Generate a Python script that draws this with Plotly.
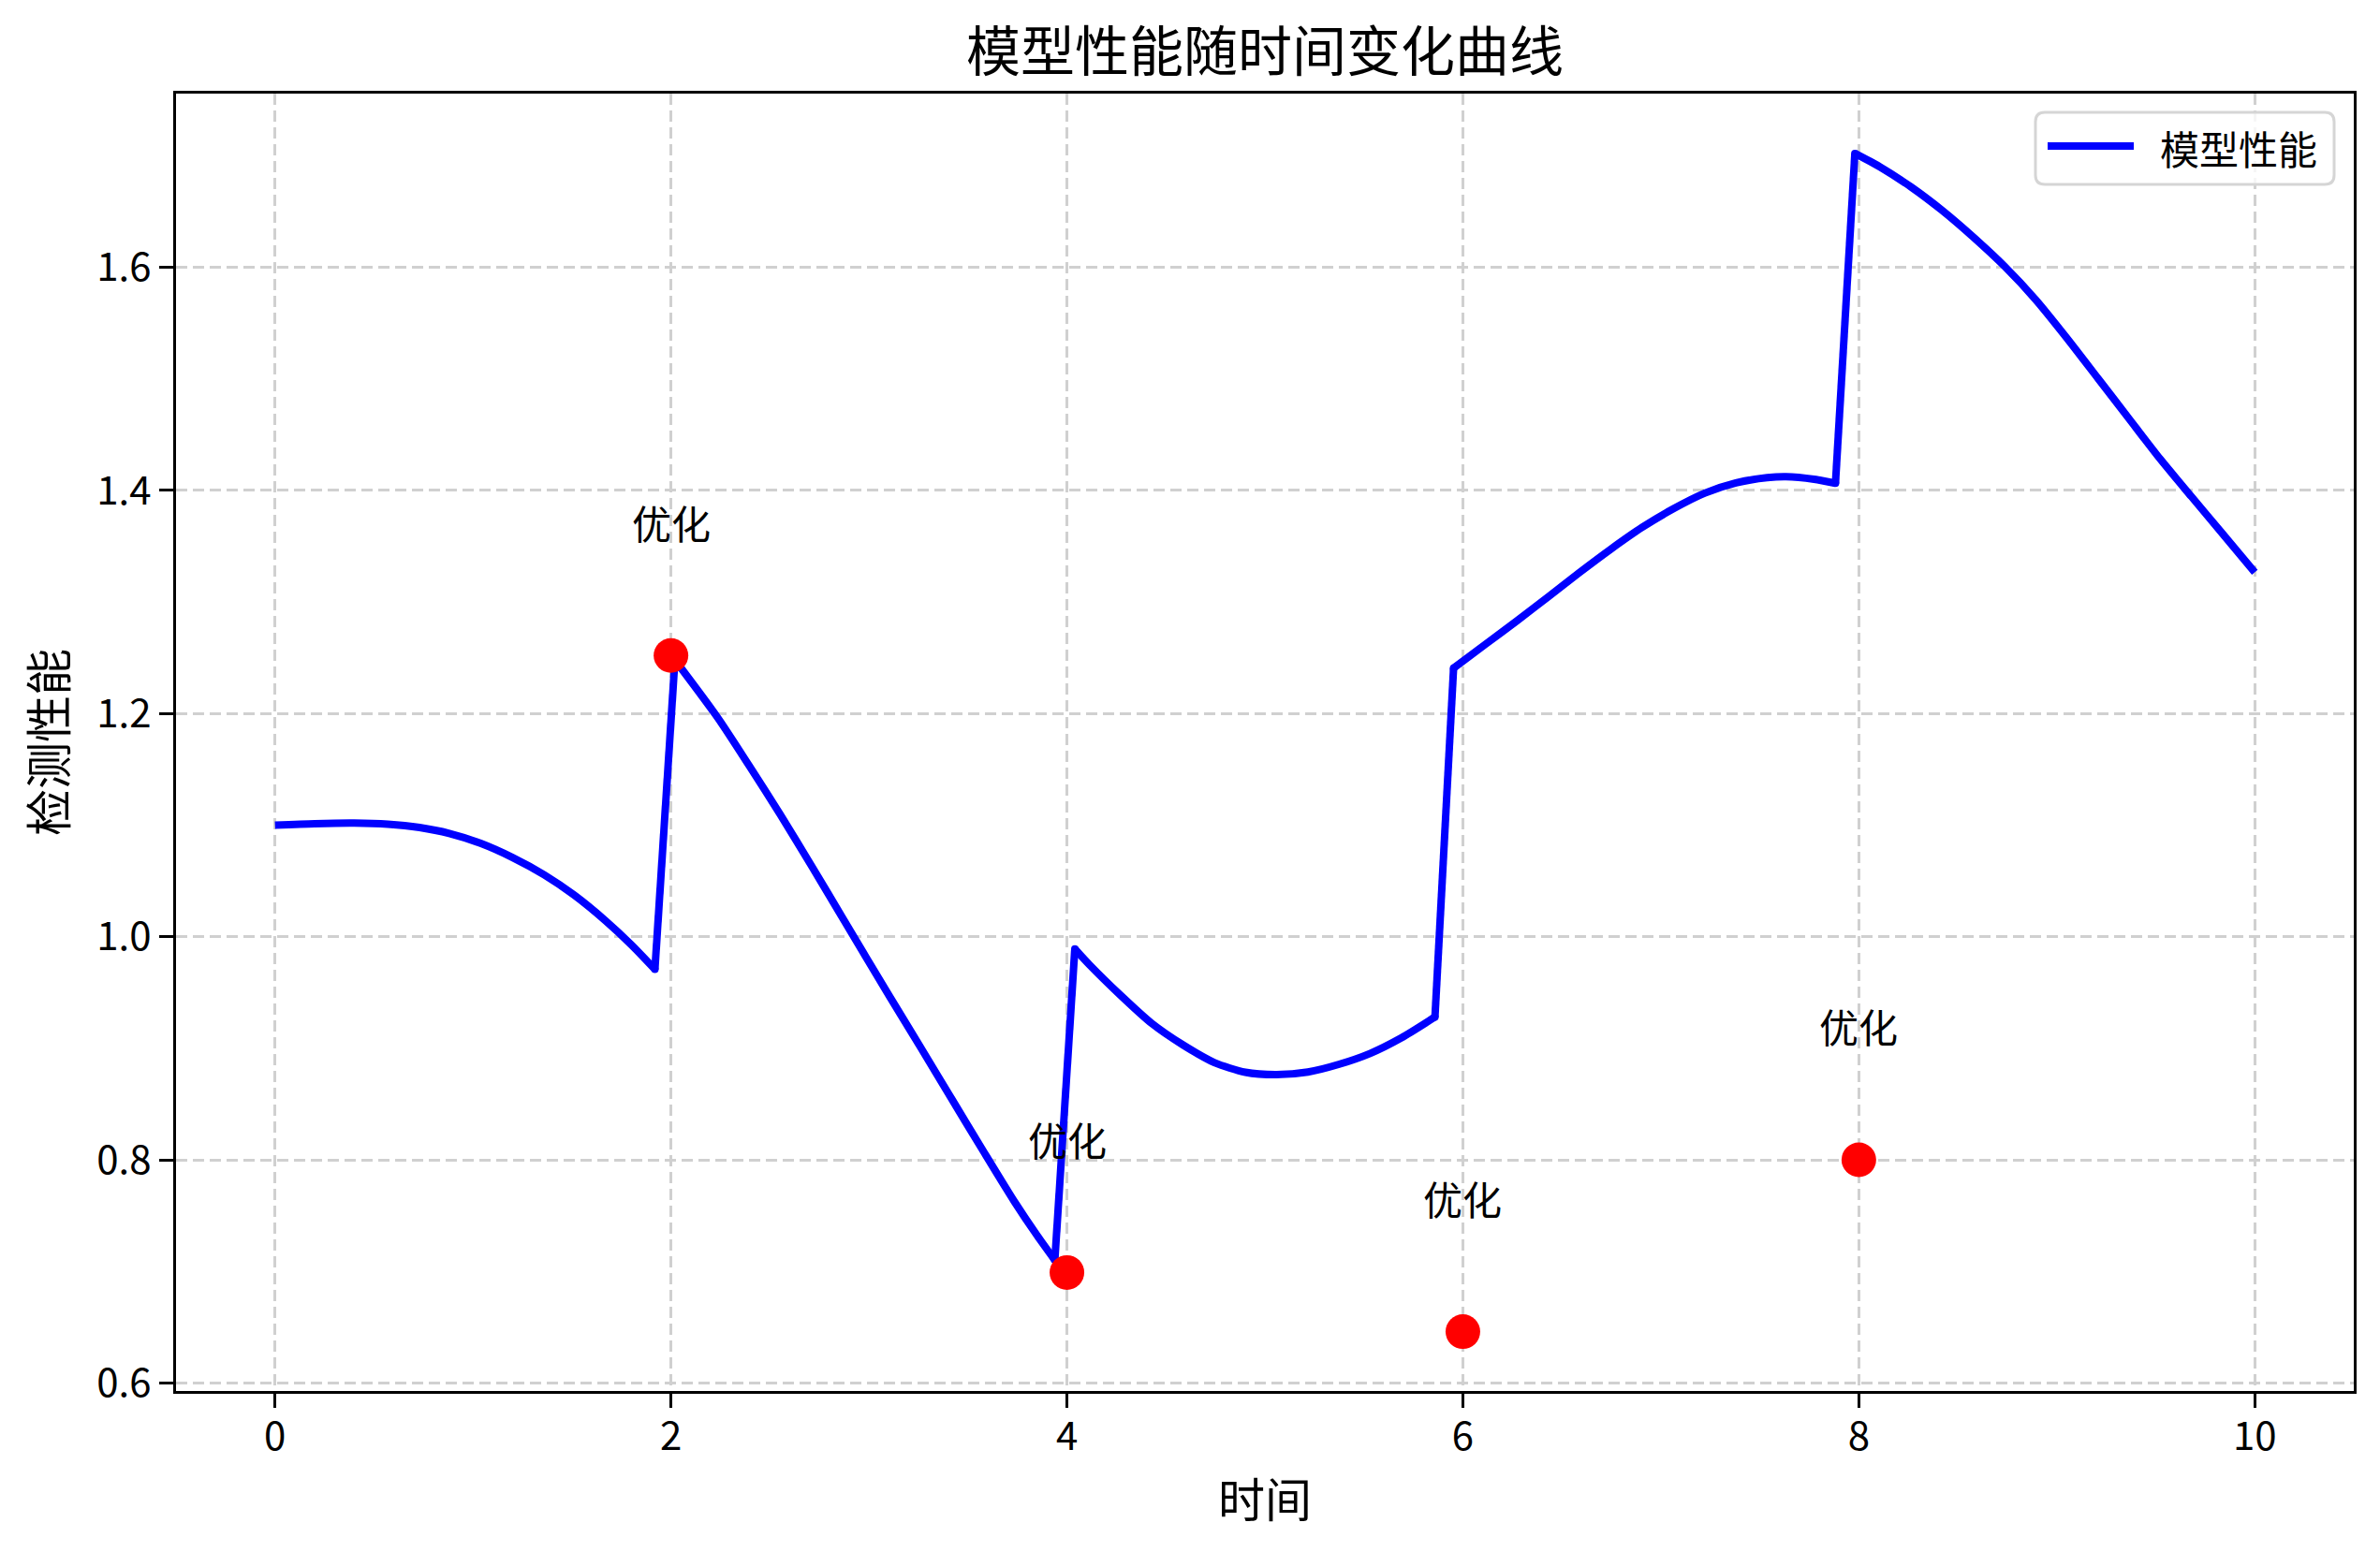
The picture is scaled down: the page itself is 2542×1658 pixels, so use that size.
import plotly.graph_objects as go

# ---- data (one list pair per smooth stretch of the curve) ----
t_seg1 = [0.0, 0.2, 0.4, 0.57, 0.73, 0.88, 1.04, 1.2, 1.36, 1.51, 1.67, 1.8, 1.919]
v_seg1 = [1.100, 1.1013, 1.1018, 1.1008, 1.0978, 1.0925, 1.0835, 1.0709, 1.0554, 1.0374, 1.0142, 0.9927, 0.9707]

t_seg2 = [2.02, 2.237, 2.394, 2.552, 2.71, 2.868, 3.104, 3.262, 3.42, 3.577, 3.735, 3.85, 3.939]
v_seg2 = [1.248, 1.196, 1.1535, 1.1095, 1.0635, 1.0165, 0.9465, 0.9005, 0.854, 0.808, 0.7625, 0.732, 0.710]

t_seg3 = [4.04, 4.113, 4.271, 4.429, 4.586, 4.744, 4.901, 5.059, 5.217, 5.374, 5.532, 5.689, 5.859]
v_seg3 = [0.989, 0.975, 0.9475, 0.9222, 0.903, 0.8872, 0.8785, 0.8764, 0.8787, 0.8856, 0.8954, 0.9093, 0.928]

t_seg4 = [5.953, 6.115, 6.273, 6.431, 6.589, 6.747, 6.905, 7.063, 7.221, 7.379, 7.537, 7.632, 7.774, 7.882]
v_seg4 = [1.2407, 1.2622, 1.2831, 1.3046, 1.3264, 1.3473, 1.3668, 1.3835, 1.3975, 1.4067, 1.4114, 1.4123, 1.410, 1.4064]

t_seg5 = [7.98, 8.106, 8.263, 8.42, 8.578, 8.735, 8.893, 9.05, 9.208, 9.365, 9.523, 9.68, 9.838, 10.0]
v_seg5 = [1.702, 1.690, 1.672, 1.651, 1.627, 1.601, 1.571, 1.5367, 1.5004, 1.4642, 1.4279, 1.3944, 1.361, 1.3266]

opt_times = [2, 4, 6, 8]
opt_values = [1.252, 0.699, 0.646, 0.800]
opt_label = "优化"

x_ticks = [0, 2, 4, 6, 8, 10]
y_ticks = [0.6, 0.8, 1.0, 1.2, 1.4, 1.6]

title_text = "模型性能随时间变化曲线"
x_title = "时间"
y_title = "检测性能"
series_name = "模型性能"

FONT = "Noto Sans CJK SC, Noto Sans, sans-serif"
GRID = "#d0d0d0"
BLUE = "#0000ff"
LW = 8

segments = [(t_seg1, v_seg1), (t_seg2, v_seg2), (t_seg3, v_seg3), (t_seg4, v_seg4), (t_seg5, v_seg5)]

fig = go.Figure()

# jump connectors between consecutive stretches (straight lines, as in the reference)
jx, jy = [], []
for (ta, va), (tb, vb) in zip(segments[:-1], segments[1:]):
    jx += [ta[-1], tb[0], None]
    jy += [va[-1], vb[0], None]
fig.add_trace(go.Scatter(x=jx, y=jy, mode="lines", showlegend=False, hoverinfo="skip",
                         line=dict(color=BLUE, width=LW)))

for i, (ts, vs) in enumerate(segments):
    fig.add_trace(go.Scatter(
        x=ts, y=vs, mode="lines", name=series_name, showlegend=False,
        line=dict(color=BLUE, width=LW, shape="spline", smoothing=0.7),
    ))

# small round caps at the corners so the joins look continuous
cx = [s[0][-1] for s in segments[:-1]] + [s[0][0] for s in segments[1:]]
cy = [s[1][-1] for s in segments[:-1]] + [s[1][0] for s in segments[1:]]
fig.add_trace(go.Scatter(x=cx, y=cy, mode="markers", showlegend=False, hoverinfo="skip",
                         marker=dict(color=BLUE, size=LW, line=dict(width=0))))

fig.add_trace(go.Scatter(
    x=opt_times, y=opt_values, mode="markers", showlegend=False,
    marker=dict(color="#ff0000", size=37, line=dict(width=0)),
))

for t, v in zip(opt_times, opt_values):
    fig.add_annotation(x=t, y=v + 0.12, xref="x", yref="y", text=opt_label,
                       showarrow=False, xanchor="center", yanchor="middle",
                       font=dict(family=FONT, size=42, color="black"))

# ---- legend box (drawn in paper coordinates) ----
PL, PR, PT, PB = 188, 2514, 100, 1486   # plot area in page pixels
def px(xp):
    return (xp - PL) / (PR - PL)
def py(yp):
    return (PB - yp) / (PB - PT)

bx0, bx1, by0, by1 = px(2174), px(2493), py(197), py(120)
rx, ry = 10 / (PR - PL), 10 / (PB - PT)
path = (f"M {bx0+rx},{by0} L {bx1-rx},{by0} Q {bx1},{by0} {bx1},{by0+ry} "
        f"L {bx1},{by1-ry} Q {bx1},{by1} {bx1-rx},{by1} L {bx0+rx},{by1} "
        f"Q {bx0},{by1} {bx0},{by1-ry} L {bx0},{by0+ry} Q {bx0},{by0} {bx0+rx},{by0} Z")
fig.add_shape(type="path", path=path, xref="paper", yref="paper", layer="above",
              fillcolor="rgba(255,255,255,0.8)", line=dict(color="#d5d5d5", width=3))
fig.add_shape(type="line", xref="paper", yref="paper", layer="above",
              x0=px(2187), x1=px(2279), y0=py(156), y1=py(156),
              line=dict(color=BLUE, width=LW))
fig.add_annotation(x=px(2391), y=py(157), xref="paper", yref="paper", text=series_name,
                   showarrow=False, xanchor="center", yanchor="middle",
                   font=dict(family=FONT, size=42, color="black"))

OFF = 8  # page body margin of the html
fig.update_layout(
    width=2542, height=1658, showlegend=False,
    margin=dict(l=PL - OFF, r=2542 - PR + OFF, t=PT - OFF, b=1658 - PB + OFF, autoexpand=False),
    paper_bgcolor="white", plot_bgcolor="white",
    font=dict(family=FONT, size=42, color="black"),
    title=dict(text=title_text, x=0.5, xref="paper",
               xanchor="center", y=1 - (56 - OFF) / 1658, yref="container", yanchor="middle",
               font=dict(family=FONT, size=58, color="black")),
)

axis_common = dict(
    showline=True, linecolor="black", linewidth=3.3, mirror=True,
    ticks="outside", ticklen=15, tickwidth=3.3, tickcolor="black",
    showgrid=True, gridcolor=GRID, gridwidth=3.3, griddash="12px,6px",
    zeroline=False, automargin=False,
    tickfont=dict(family=FONT, size=42, color="black"),
)

fig.update_xaxes(range=[-0.5, 10.5], tickvals=x_ticks, ticktext=[str(v) for v in x_ticks],
                 ticklabelstandoff=-6,
                 title=dict(text=x_title, font=dict(family=FONT, size=50, color="black"), standoff=27),
                 **axis_common)
fig.update_yaxes(range=[0.5928, 1.7556], tickvals=y_ticks, ticktext=[f"{v:.1f}" for v in y_ticks],
                 title=dict(text=y_title, font=dict(family=FONT, size=50, color="black"), standoff=16),
                 **axis_common)

fig.write_html("out.html")
